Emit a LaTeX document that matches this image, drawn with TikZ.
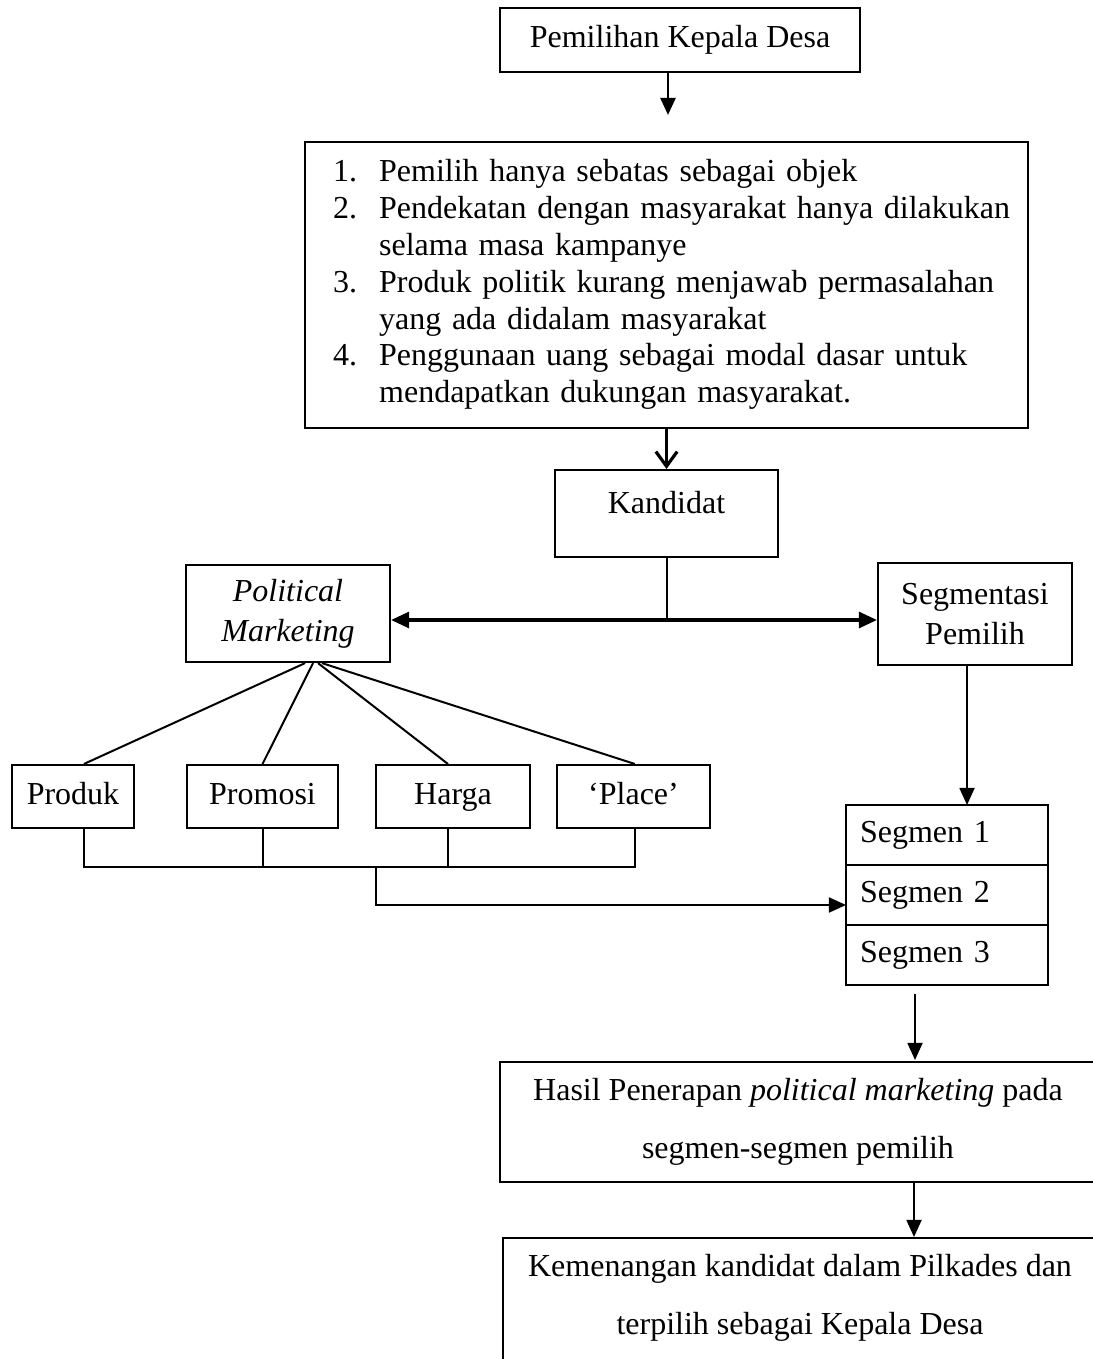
\documentclass[tikz,border=0pt]{standalone}
\usepackage{fontspec}
\setmainfont{Liberation Serif}
\usetikzlibrary{arrows.meta,positioning}
\tikzstyle{box}=[draw,line width=0.8pt,inner sep=0pt,align=center,font=\fontsize{12}{13.8}\selectfont]
\tikzstyle{mixbox}=[box,minimum height=23.6pt,text height=8.4pt,text depth=2.6pt]
\tikzstyle{segbox}=[box,outer sep=0pt,minimum width=75.75pt,minimum height=22.5pt,text width=65.25pt,inner xsep=5.25pt,align=left]
\tikzstyle{conn}=[draw,line width=0.75pt]
\tikzstyle{arr}=[-{Triangle[width=5.6pt,length=6.4pt]},draw,line width=0.8pt]
\tikzstyle{arrt}=[{Triangle[width=6pt,length=6.8pt]}-{Triangle[width=6pt,length=6.8pt]},draw,line width=1.2pt]
\tikzstyle{arro}=[-{Straight Barb[width=8pt,length=5.5pt]},draw,line width=1.2pt]

\begin{document}
\begin{tikzpicture}[x=0.375pt,y=-0.375pt]
    \useasboundingbox (0,0) rectangle (1093,1359);
    \clip (0,0) rectangle (1093,1359);
    % top part
    \node[box,minimum width=135pt,minimum height=24pt] (pilkades) at (680,40) {Pemilihan Kepala Desa};
    \coordinate (pilkadesTip) at (668,115);
    \node[box,text width=250pt,inner xsep=10.5pt,minimum height=107.25pt,align=left] (masalah) at (666.5,285) {%
      \begin{tabular}{@{}p{17.25pt}@{}l@{}}
        1. & Pemilih hanya sebatas sebagai objek\\
        2. & Pendekatan dengan masyarakat hanya dilakukan\\
           & selama masa kampanye\\
        3. & Produk politik kurang menjawab permasalahan\\
           & yang ada didalam masyarakat\\
        4. & Penggunaan uang sebagai modal dasar untuk\\
           & mendapatkan dukungan masyarakat.
      \end{tabular}};
    \node[box,minimum width=83.6pt,minimum height=32.6pt,text depth=8pt] (kandidat) at (666.5,513.5) {Kandidat};
    \coordinate (cabang) at (666.5,620);
    \node[box,minimum width=76.5pt,minimum height=36.4pt,font=\fontsize{12}{15}\selectfont\itshape] (polmark) at (288,613.5) {Political\\Marketing};
    \node[box,minimum width=72.75pt,minimum height=38.25pt,font=\fontsize{12}{15}\selectfont] (segmentasi) at (975,614) {Segmentasi\\Pemilih};
    % marketing mix
    \node[mixbox,minimum width=45.75pt] (produk) at (73,796.5) {Produk};
    \node[mixbox,minimum width=56.6pt] (promosi) at (262.5,796.5) {Promosi};
    \node[mixbox,minimum width=57.75pt] (harga) at (453,796.5) {Harga};
    \node[mixbox,minimum width=57.4pt] (place) at (633.5,796.5) {‘Place’};
    % segments
    \node[segbox] (segmen1) at (947,835) {Segmen 1};
    \node[segbox,below=0pt of segmen1] (segmen2) {Segmen 2};
    \node[segbox,below=0pt of segmen2] (segmen3) {Segmen 3};
    % bottom part
    \node[box,minimum width=223.5pt,minimum height=45pt,font=\fontsize{12}{21.75}\selectfont] (hasil) at (798,1122) {Hasil Penerapan \textit{political marketing} pada\\segmen-segmen pemilih};
    \node[box,anchor=north,minimum width=222.75pt,font=\fontsize{12}{21.75}\selectfont] (menang) at (800,1237) {%
      \parbox[t][52pt][t]{210pt}{\centering\vspace*{6pt}Kemenangan kandidat dalam Pilkades dan\\terpilih sebagai Kepala Desa}};

    \draw[arr,line width=1pt] (pilkades.south -| pilkadesTip) -- (pilkadesTip);
    \draw[arro] (masalah.south) -- (kandidat.north);
    \draw[conn] (kandidat.south) -- (cabang);
    \draw[arrt] (cabang -| polmark.east) -- (cabang -| segmentasi.west);
    \coordinate (segArrow) at ([xshift=-3pt]segmentasi.south);
    \draw[arr] (segArrow) -- (segArrow |- segmen1.north);

    \draw[conn] ([xshift=6.4pt]polmark.south) -- ([xshift=4.1pt]produk.north);
    \draw[conn] ([xshift=9.4pt]polmark.south) -- (promosi.north);
    \draw[conn] ([xshift=11.25pt]polmark.south) -- ([xshift=-1.9pt]harga.north);
    \draw[conn] ([xshift=12.75pt]polmark.south) -- ([xshift=0.5pt]place.north);

    \draw[conn] ([xshift=4.1pt]produk.south) -- ++(0,38) -| ([xshift=0.5pt]place.south);
    \draw[conn] (promosi.south) -- ++(0,38);
    \draw[conn] ([xshift=-1.9pt]harga.south) -- ++(0,38);
    \coordinate (bus) at (376,866);
    \draw[arr] (bus) |- ([yshift=-3.75pt]segmen2.west);

    \coordinate (turun1) at (915,994);
    \coordinate (turun1Tip) at (915,1060);
    \draw[arr] (turun1) -- (turun1Tip);
    \coordinate (turun2) at ([xshift=43.5pt]hasil.south);
    \draw[arr] (turun2) -- (turun2 |- menang.north);
\end{tikzpicture}
\end{document}
